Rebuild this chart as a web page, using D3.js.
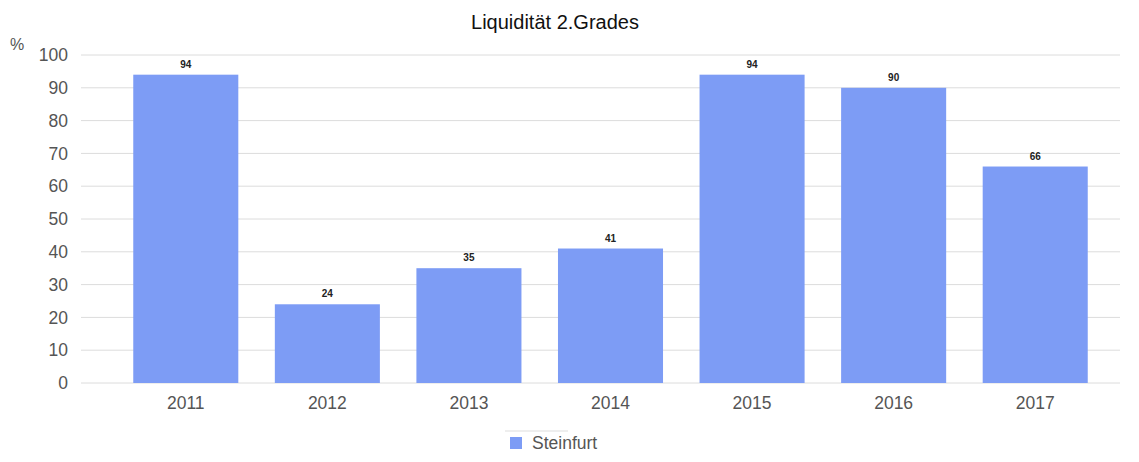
<!DOCTYPE html>
<html><head><meta charset="utf-8">
<script src="https://cdn.jsdelivr.net/npm/d3@7"></script>
<style>html,body{margin:0;padding:0;background:#fff;}svg{display:block;font-family:"Liberation Sans",Arial,sans-serif;}</style>
</head><body>
<svg id="c" width="1139" height="462"></svg>
<script>
const categories = ["2011","2012","2013","2014","2015","2016","2017"];
const values = [94, 24, 35, 41, 94, 90, 66];
const yTicks = [0,10,20,30,40,50,60,70,80,90,100];
const seriesName = "Steinfurt";
const title = "Liquidität 2.Grades";
const unit = "%";

const svg = d3.select("#c");
const color = "#7d9cf5";
const x = d3.scaleBand().domain(categories).range([115, 1106]).paddingInner(0.258).paddingOuter(0.129);
const y = d3.scaleLinear().domain([0,100]).range([383, 55]);

// gridlines
svg.append("g").selectAll("line").data(yTicks).join("line")
  .attr("x1", 81).attr("x2", 1120)
  .attr("y1", d => y(d)).attr("y2", d => y(d))
  .attr("stroke", "#dcdcdc").attr("stroke-width", 1);

// y axis labels
const yAxis = d3.axisLeft(y).tickValues(yTicks).tickSize(0).tickPadding(0);
const yg = svg.append("g").attr("transform","translate(68,0)").call(yAxis);
yg.select(".domain").remove();
yg.selectAll("text").attr("font-size", 17.5).attr("fill", "#555").attr("font-family","Liberation Sans, Arial, sans-serif");

svg.append("text").attr("x", 10).attr("y", 50).attr("font-size", 16).attr("fill","#555").text(unit);

// bars
svg.append("g").selectAll("rect").data(values).join("rect")
  .attr("x", (d,i) => x(categories[i]))
  .attr("width", x.bandwidth())
  .attr("y", d => y(d))
  .attr("height", d => y(0) - y(d))
  .attr("fill", color);

// value labels
svg.append("g").selectAll("text").data(values).join("text")
  .attr("x", (d,i) => x(categories[i]) + x.bandwidth()/2)
  .attr("y", d => y(d) - 7)
  .attr("text-anchor","middle").attr("font-size", 10).attr("font-weight","bold").attr("fill","#222")
  .text(d => d);

// x axis labels
const xAxis = d3.axisBottom(x).tickSize(0).tickPadding(0);
const xg = svg.append("g").attr("transform","translate(0,397)").call(xAxis);
xg.select(".domain").remove();
xg.selectAll("text").attr("font-size", 17.5).attr("fill", "#555").attr("font-family","Liberation Sans, Arial, sans-serif");

// title
svg.append("text").attr("x", 555).attr("y", 29).attr("text-anchor","middle")
  .attr("font-size", 20).attr("fill","#111").text(title);

// legend
const lg = svg.append("g");
lg.append("line").attr("x1",505).attr("x2",568).attr("y1",431).attr("y2",431).attr("stroke","#ddd");
lg.append("rect").attr("x",510).attr("y",437).attr("width",12).attr("height",12).attr("fill",color);
lg.append("text").attr("x",532).attr("y",449).attr("font-size",17.5).attr("fill","#555").text(seriesName);
</script>
</body></html>
